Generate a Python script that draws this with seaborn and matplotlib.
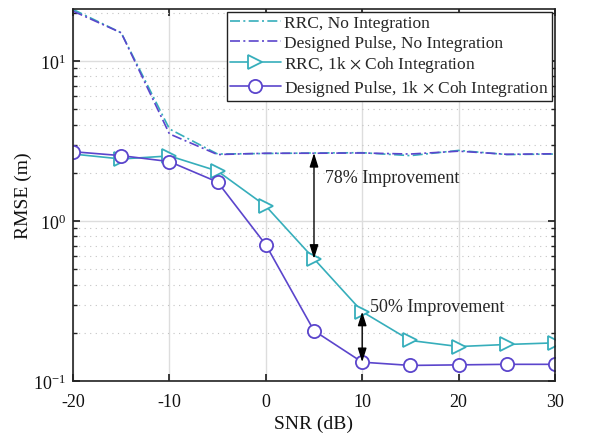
import numpy as np
import pandas as pd
import matplotlib
matplotlib.use("Agg")
import matplotlib.pyplot as plt
import seaborn as sns
from matplotlib.ticker import LogLocator, NullFormatter, FixedLocator

snr = [-20, -15, -10, -5, 0, 5, 10, 15, 20, 25, 30]
rrc_noint = [21.0, 15.0, 3.76, 2.62, 2.64, 2.66, 2.67, 2.56, 2.76, 2.60, 2.62]
des_noint = [20.5, 15.0, 3.50, 2.60, 2.65, 2.65, 2.66, 2.62, 2.73, 2.61, 2.63]
rrc_int = [2.62, 2.44, 2.55, 2.05, 1.24, 0.58, 0.271, 0.179, 0.164, 0.169, 0.173]
des_int = [2.71, 2.56, 2.35, 1.75, 0.71, 0.206, 0.131, 0.125, 0.126, 0.127, 0.127]
labels = ["RRC, No Integration", "Designed Pulse, No Integration",
          r"RRC, 1k $\times$ Coh Integration",
          r"Designed Pulse, 1k $\times$ Coh Integration"]
x_ticks = [-20, -10, 0, 10, 20, 30]

teal = "#36AEBB"
purple = "#5B45CC"

sns.set_theme(style="white")
plt.rcParams["font.family"] = ["Liberation Serif", "DejaVu Serif"]
plt.rcParams["mathtext.fontset"] = "stix"

fig = plt.figure(figsize=(6.05, 4.39), dpi=100)
ax = fig.add_axes([0.1207, 0.13, 0.7966, 0.847])

df = pd.DataFrame({"snr": snr, "a": rrc_noint, "b": des_noint, "c": rrc_int, "d": des_int})

sns.lineplot(data=df, x="snr", y="a", ax=ax, color=teal, lw=1.2, label=labels[0])
ax.lines[-1].set_dashes([6, 2, 1.2, 2])
sns.lineplot(data=df, x="snr", y="b", ax=ax, color=purple, lw=1.2, label=labels[1])
ax.lines[-1].set_dashes([6, 2, 1.2, 2])
sns.lineplot(data=df, x="snr", y="c", ax=ax, color=teal, lw=1.2, marker=">",
             markersize=10, markerfacecolor="white", markeredgecolor=teal,
             markeredgewidth=1.3, label=labels[2])
sns.lineplot(data=df, x="snr", y="d", ax=ax, color=purple, lw=1.2, marker="o",
             markersize=9.5, markerfacecolor="white", markeredgecolor=purple,
             markeredgewidth=1.3, label=labels[3])

ax.set_yscale("log")
ax.set_xlim(-20, 30)
ax.set_ylim(0.1, 21.1)
ax.xaxis.set_major_locator(FixedLocator(x_ticks))
ax.set_xticklabels([str(t) for t in x_ticks])
ax.yaxis.set_major_locator(LogLocator(base=10, numticks=10))
ax.yaxis.set_minor_locator(LogLocator(base=10, subs=np.arange(2, 10), numticks=20))
ax.yaxis.set_minor_formatter(NullFormatter())

ax.grid(True, which="major", color="#DDDDDD", lw=1.0, ls="-")
ax.grid(True, which="minor", axis="y", color="#C4C4C4", lw=0.8, ls=(0, (1, 4)))
ax.set_axisbelow(True)

for s in ax.spines.values():
    s.set_color("#222222")
    s.set_linewidth(1.2)
ax.tick_params(which="both", direction="in", top=True, right=True, left=True,
               bottom=True, colors="#222222", labelsize=13, labelcolor="#111111")
ax.tick_params(which="major", length=5)
ax.tick_params(which="minor", length=3)
ax.tick_params(axis="x", which="major", pad=9)
ax.tick_params(axis="y", which="major", pad=5)

ax.set_xlabel("SNR (dB)", fontsize=14, color="#111111", labelpad=3)
ax.set_ylabel("RMSE (m)", fontsize=14, color="#111111", labelpad=1)

astyle = "<|-|>,head_width=0.22,head_length=0.7"
ax.annotate("", xy=(5, 0.58), xytext=(5, 2.66),
            arrowprops=dict(arrowstyle=astyle, color="black", lw=1.0,
                            mutation_scale=12, shrinkA=0, shrinkB=0))
ax.annotate("", xy=(10, 0.131), xytext=(10, 0.271),
            arrowprops=dict(arrowstyle=astyle, color="black", lw=1.0,
                            mutation_scale=12, shrinkA=0, shrinkB=0))
ax.text(6.1, 1.88, "78% Improvement", fontsize=13, va="center", ha="left")
ax.text(10.8, 0.29, "50% Improvement", fontsize=13, va="center", ha="left")

leg = ax.legend(loc="upper right", fontsize=12.5, frameon=True, fancybox=False,
                borderpad=0.2, labelspacing=0.2, handlelength=2.9,
                handletextpad=0.2, borderaxespad=0.15)
leg.get_frame().set_edgecolor("#222222")
leg.get_frame().set_linewidth(1.0)
leg.get_frame().set_alpha(1.0)

fig.savefig("out.png", dpi=100)
